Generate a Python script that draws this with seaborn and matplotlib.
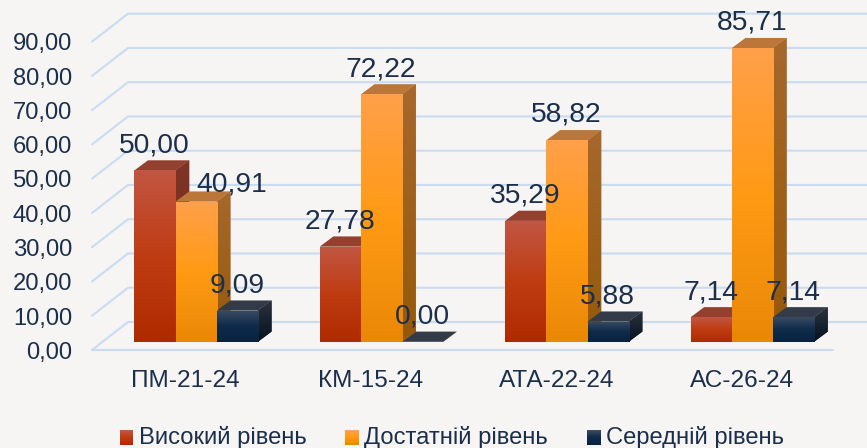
import numpy as np
import pandas as pd
import matplotlib
matplotlib.use("Agg")
import matplotlib.pyplot as plt
from matplotlib.patches import Polygon, Rectangle, Patch
from matplotlib.legend_handler import HandlerBase
from matplotlib.transforms import Affine2D
from matplotlib.colors import LinearSegmentedColormap
import seaborn as sns

groups = ["ПМ-21-24", "КМ-15-24", "АТА-22-24", "АС-26-24"]
series = ["Високий рівень", "Достатній рівень", "Середній рівень"]
high = [50.00, 27.78, 35.29, 7.14]
sufficient = [40.91, 72.22, 58.82, 85.71]
medium = [9.09, 0.00, 5.88, 7.14]
ticks = [0, 10, 20, 30, 40, 50, 60, 70, 80, 90]

W, H = 867, 448
BG = "#F7F5F3"
INK = "#1B2F4A"
GRID = "#C9DCF2"
FONT = "Liberation Sans"
PX_X = 185.4      # pixels per category
PX_Y = 3.426      # pixels per value unit
X0_PX = 196.1     # pixel x of first category centre
Y0_PX = 341.8     # pixel y of value 0 at the bars' base
AX_LEFT, AX_BOTTOM = 92, 350

faces = {
    series[0]: dict(grad=["#C25643", "#BF3C12", "#B02A00"], side=("#7F3425", "#6E2C1C"), top="#93402F"),
    series[1]: dict(grad=["#FFA04A", "#FF9A14", "#EA8806"], side=("#A6682C", "#96590A"), top="#BB773A"),
    series[2]: dict(grad=["#3A4B62", "#0F2B4B", "#09223F"], side=("#2C323E", "#05121F"), top="#343B48"),
}

plt.rcParams["font.family"] = FONT
sns.set_style("white", {"axes.facecolor": BG, "figure.facecolor": BG})
plt.rcParams["font.family"] = [FONT, "DejaVu Sans"]

fig = plt.figure(figsize=(W / 100, H / 100), dpi=100, facecolor=BG)
ax = fig.add_axes([AX_LEFT / W, 1 - AX_BOTTOM / H, 1 - AX_LEFT / W, AX_BOTTOM / H])

df = pd.DataFrame({
    "group": np.tile(groups, 3),
    "series": np.repeat(series, 4),
    "value": high + sufficient + medium,
})
sns.barplot(data=df, x="group", y="value", hue="series", hue_order=series, order=groups,
            palette=[faces[s]["grad"][1] for s in series], width=3 * 41.2 / PX_X, gap=0,
            legend=False, ax=ax, linewidth=0, zorder=5)

xlim = ((AX_LEFT - X0_PX) / PX_X, (W - X0_PX) / PX_X)
ylim = ((Y0_PX - AX_BOTTOM) / PX_Y, Y0_PX / PX_Y)


def xu(px):
    return px / PX_X


def yu(px):
    return px / PX_Y


# Gridlines of the 3-D wall, derived from the tick values
x_front = xlim[0]
x_back = x_front + xu(36)
for t in ticks:
    y_front = t + yu(Y0_PX - AX_BOTTOM)
    y_back = t + yu(19.8)
    ax.plot([x_front, x_back, xlim[1]], [y_front, y_back, y_back], color=GRID, lw=1.5,
            solid_joinstyle="round", zorder=1, clip_on=False)
ax.plot([x_front, (833 - X0_PX) / PX_X], [yu(Y0_PX - AX_BOTTOM)] * 2, color=GRID, lw=1.5, zorder=1, clip_on=False)

# 3-D extrusion and gradient for each seaborn bar
DX, DY = xu(13.7), yu(10.2)
label_nudge = {(1, 0): (36, 8), (3, 0): (-30, 0)}  # pixel nudges of crowded labels (series, group)
cmaps = {s: LinearSegmentedColormap.from_list(s, faces[s]["grad"]) for s in series}
grad = np.linspace(0, 1, 128)[:, None]
side_grad = np.linspace(0, 1, 64)[:, None]

for si, (s, cont) in enumerate(zip(series, ax.containers)):
    f = faces[s]
    for gi, bar in enumerate(cont.patches):
        x, w, h = bar.get_x(), bar.get_width(), bar.get_height()
        z = 5 + gi * 3 + si * 0.5
        side = Polygon([(x + w, 0), (x + w + DX, DY), (x + w + DX, h + DY), (x + w, h)],
                       closed=True, fc=f["side"][0], ec="none", zorder=z)
        ax.add_patch(side)
        if h > 0:
            cm = LinearSegmentedColormap.from_list("s", list(f["side"]))
            im = ax.imshow(side_grad, cmap=cm, aspect="auto", extent=(x + w, x + w + DX, 0, h + DY),
                           origin="upper", zorder=z + 0.01, interpolation="bilinear")
            im.set_clip_path(side)
        ax.add_patch(Polygon([(x, h), (x + DX, h + DY), (x + w + DX, h + DY), (x + w, h)],
                             closed=True, fc=f["top"], ec="none", zorder=z + 0.02))
        bar.set_zorder(z + 0.03)
        if h > 0:
            im = ax.imshow(grad, cmap=cmaps[s], aspect="auto", extent=(x, x + w, 0, h),
                           origin="upper", zorder=z + 0.04, interpolation="bilinear")
            im.set_clip_path(bar)
        nx, ny = label_nudge.get((si, gi), (0, 0))
        lab = f"{h:.2f}".replace(".", ",")
        ax.text(x + w / 2 + xu(nx) - xu(0.5), h + yu(25.3 - ny), lab, ha="center", va="center",
                fontsize=20.3, color=INK, zorder=50, clip_on=False)

ax.set_xlim(*xlim)
ax.set_ylim(*ylim)
ax.set_xlabel("")
ax.set_ylabel("")
ax.set_yticks(ticks)
ax.set_yticklabels([f"{t:.2f}".replace(".", ",") for t in ticks], fontsize=17.1, color=INK)
ax.set_xticks(range(len(groups)))
ax.set_xticklabels(groups, fontsize=17.6, color=INK)
ax.tick_params(axis="both", length=0)
ax.tick_params(axis="y", pad=20)
ax.tick_params(axis="x", pad=14.5)
sns.despine(ax=ax, left=True, bottom=True)
ax.patch.set_alpha(0)
for lab in ax.get_yticklabels():
    lab.set_transform(lab.get_transform() + Affine2D().translate(8, -8.5))
for lab in ax.get_xticklabels():
    lab.set_transform(lab.get_transform() + Affine2D().translate(-10.5, 0))


class GradientSquare(HandlerBase):
    def create_artists(self, legend, orig, xd, yd, width, height, fontsize, trans):
        cm = cmaps[orig.get_label()]
        n = 14
        return [Rectangle((xd, yd + height * (n - 1 - i) / n), width, height / n + 0.1,
                          fc=cm(i / (n - 1)), ec="none", transform=trans) for i in range(n)]


handles = [Patch(label=s) for s in series]
leg = fig.legend(handles=handles, labels=series, loc="center", bbox_to_anchor=(452 / W, 1 - 437 / H),
                 ncol=3, frameon=False, fontsize=17.1, labelcolor=INK,
                 handler_map={Patch: GradientSquare()}, handlelength=0.55, handleheight=0.55,
                 handletextpad=0.25, columnspacing=1.65, borderpad=0, borderaxespad=0)

fig.savefig("out.png", dpi=100, facecolor=BG)
